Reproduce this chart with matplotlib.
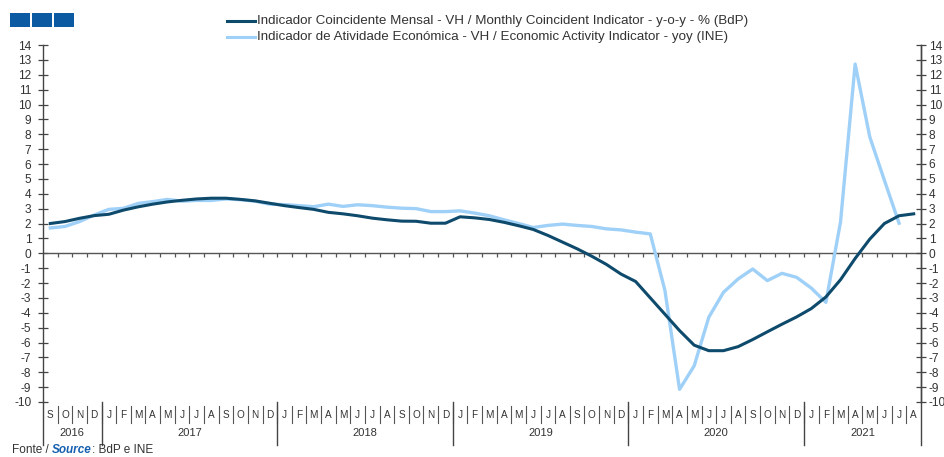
import matplotlib
matplotlib.use("Agg")
import matplotlib.pyplot as plt
import matplotlib.transforms as mtrans
from matplotlib.lines import Line2D
from matplotlib.patches import Rectangle
import numpy as np

plt.rcParams['font.family'] = ['Liberation Sans', 'DejaVu Sans']

month_labels = ["S", "O", "N", "D"] + ["J", "F", "M", "A", "M", "J", "J", "A", "S", "O", "N", "D"] * 4 + ["J", "F", "M", "A", "M", "J", "J", "A"]
year_labels = ["2016", "2017", "2018", "2019", "2020", "2021"]
year_month_counts = [4, 12, 12, 12, 12, 8]

coincident = [2.0, 2.13, 2.35, 2.53,
              2.62, 2.9, 3.12, 3.3, 3.45, 3.56, 3.65, 3.7, 3.7, 3.62, 3.52, 3.36,
              3.2, 3.07, 2.95, 2.75, 2.65, 2.52, 2.36, 2.25, 2.16, 2.15, 2.02, 2.02,
              2.45, 2.38, 2.27, 2.08, 1.85, 1.6, 1.2, 0.75, 0.3, -0.2, -0.75, -1.4,
              -1.9, -3.0, -4.1, -5.2, -6.18, -6.55, -6.55, -6.28, -5.8, -5.28, -4.77, -4.28,
              -3.72, -2.94, -1.78, -0.35, 0.95, 2.0, 2.52, 2.65]

activity = [1.7, 1.8, 2.13, 2.57,
            2.95, 3.02, 3.35, 3.47, 3.62, 3.5, 3.55, 3.55, 3.65, 3.6, 3.5, 3.3,
            3.27, 3.2, 3.13, 3.3, 3.15, 3.26, 3.2, 3.1, 3.03, 3.0, 2.8, 2.8,
            2.85, 2.7, 2.52, 2.25, 2.0, 1.73, 1.87, 1.96, 1.87, 1.8, 1.64, 1.57,
            1.42, 1.3, -2.5, -9.15, -7.57, -4.3, -2.63, -1.73, -1.06, -1.84, -1.35, -1.62,
            -2.34, -3.3, 2.1, 12.72, 7.82, 4.9, 2.02, np.nan]

yticks = list(range(-10, 15))

label_coincident = "Indicador Coincidente Mensal - VH / Monthly Coincident Indicator - y-o-y - % (BdP)"
label_activity = "Indicador de Atividade Económica - VH / Economic Activity Indicator - yoy (INE)"

dark = "#0e4a6c"
light = "#9fd0f7"
txt = "#333333"

W, H = 944, 457
fig = plt.figure(figsize=(W / 100, H / 100), dpi=100)
ax = fig.add_axes([43 / W, 1 - 402 / H, (921 - 43) / W, (402 - 45) / H])

n = len(month_labels)
x = np.arange(n)

ax.plot(x, activity, color=light, lw=2.4, solid_joinstyle='round', zorder=3)
ax.plot(x, coincident, color=dark, lw=2.2, solid_joinstyle='round', zorder=4)

ax.set_xlim(-0.5, n - 0.5)
ax.set_ylim(-10, 14)

# zero line with month ticks
ax.axhline(0, color="#555555", lw=1.0, zorder=2)
ax.vlines(np.arange(n - 1) + 0.5, -0.22, 0, color="#555555", lw=0.9, zorder=2)

for s in ["top", "bottom"]:
    ax.spines[s].set_visible(False)
for s in ["left", "right"]:
    ax.spines[s].set_color("#444444")
    ax.spines[s].set_linewidth(1.0)

ax.set_yticks(yticks)
ax.set_yticklabels([str(v) for v in yticks])
ax.tick_params(axis='y', direction='inout', length=7, width=0.9, color="#444444",
               labelsize=8.6, labelcolor=txt, pad=5)
ax.set_xticks([])

ax2 = ax.twinx()
ax2.set_ylim(-10, 14)
ax2.set_yticks(yticks)
ax2.set_yticklabels([str(v) for v in yticks])
ax2.tick_params(axis='y', direction='inout', length=7, width=0.9, color="#444444",
                labelsize=8.6, labelcolor=txt, pad=2)
for s in ["top", "bottom", "left"]:
    ax2.spines[s].set_visible(False)
ax2.spines["right"].set_color("#444444")
ax2.spines["right"].set_linewidth(1.0)

# x-axis categorical labels
trans = mtrans.blended_transform_factory(ax.transData, ax.transAxes)
for i, m in enumerate(month_labels):
    ax.text(i, -0.036, m, transform=trans, ha='center', va='center', fontsize=7.2, color=txt)
for i in range(n - 1):
    ax.plot([i + 0.5, i + 0.5], [-0.012, -0.06], transform=trans, color="#555555", lw=0.8, clip_on=False)

start = 0
bounds = [-0.5]
for yl, c in zip(year_labels, year_month_counts):
    ax.text(start + (c - 1) / 2, -0.088, yl, transform=trans, ha='center', va='center', fontsize=8, color=txt)
    start += c
    bounds.append(start - 0.5)
for b in bounds:
    ax.plot([b, b], [0.0, -0.12], transform=trans, color="#444444", lw=1.0, clip_on=False)

# legend (manual)
for yy, col, lab in [(21, dark, label_coincident), (37, light, label_activity)]:
    fy = 1 - yy / H
    fig.add_artist(Line2D([227 / W, 255 / W], [fy, fy], color=col, lw=2.2, transform=fig.transFigure))
    fig.text(257 / W, fy, lab, ha='left', va='center', fontsize=9.6, color=txt)

# top-left squares
for x0 in [10, 32, 54]:
    fig.add_artist(Rectangle((x0 / W, 1 - 27 / H), 20 / W, 14 / H, transform=fig.transFigure,
                             facecolor="#0b5aa2", edgecolor='none'))

# source
fy = 1 - 450 / H
t1 = fig.text(12 / W, fy, "Fonte / ", ha='left', va='center', fontsize=8.5, color=txt)
fig.canvas.draw()
r = fig.canvas.get_renderer()
bb = t1.get_window_extent(r)
t2 = fig.text(bb.x1 / W, fy, "Source", ha='left', va='center', fontsize=8.5, color="#1560b0",
              fontweight='bold', fontstyle='italic')
bb2 = t2.get_window_extent(r)
fig.text(bb2.x1 / W, fy, ": BdP e INE", ha='left', va='center', fontsize=8.5, color=txt)

fig.savefig("out.png", dpi=100)
